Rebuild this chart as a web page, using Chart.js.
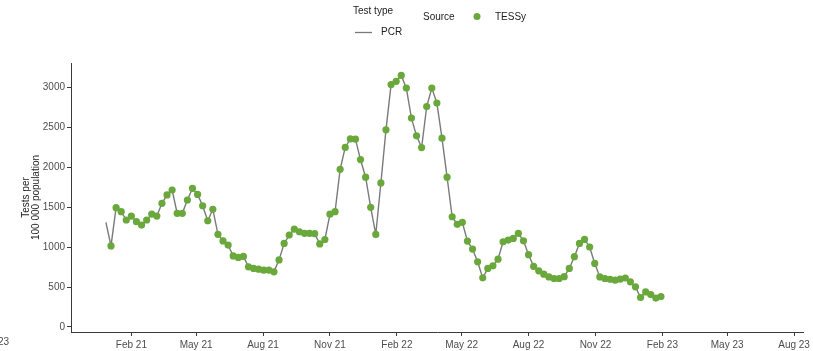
<!DOCTYPE html>
<html>
<head>
<meta charset="utf-8">
<script src="https://cdn.jsdelivr.net/npm/chart.js@4.4.1/dist/chart.umd.min.js"></script>
<style>
  body { margin: 0; background: #fff; }
  canvas { display: block; }
</style>
</head>
<body>
<canvas id="testsChart" width="813" height="351"></canvas>
<script>
// weekly PCR tests per 100 000, first week starts Monday 28 Dec 2020
var firstWeek = '2020-12-28';
var tessyFrom = 1; // TESSy reporting starts with the second week

var testsPer100k = [
  1310, 1015, 1494, 1443, 1339, 1389, 1318, 1276, 1339, 1414,
  1389, 1548, 1653, 1715, 1423, 1423, 1590, 1736, 1660, 1518,
  1330, 1473, 1160, 1077, 1025, 889, 871, 883, 753, 733,
  724, 711, 711, 690, 840, 1046, 1150, 1224, 1192, 1172,
  1172, 1168, 1040, 1095, 1412, 1443, 1975, 2248, 2355, 2351,
  2096, 1875, 1498, 1159, 1803, 2468, 3035, 3075, 3150, 2991,
  2615, 2393, 2246, 2760, 2991, 2803, 2364, 1875, 1380, 1285,
  1310, 1075, 975, 816, 615, 733, 765, 849, 1067, 1088,
  1109, 1172, 1079, 905, 758, 703, 661, 627, 607, 607,
  630, 733, 880, 1046, 1096, 1000, 795, 627, 607, 597,
  586, 599, 613, 565, 502, 369, 439, 405, 362, 380
];

var tickDates = ['2021-02-01', '2021-05-01', '2021-08-01', '2021-11-01', '2022-02-01',
  '2022-05-01', '2022-08-01', '2022-11-01', '2023-02-01', '2023-05-01', '2023-08-01'];
var tickLabels = ['Feb 21', 'May 21', 'Aug 21', 'Nov 21', 'Feb 22',
  'May 22', 'Aug 22', 'Nov 22', 'Feb 23', 'May 23', 'Aug 23'];
var yTicks = [0, 500, 1000, 1500, 2000, 2500, 3000];

var lineLabel = 'PCR';
var pointLabel = 'TESSy';
var lineLegendTitle = 'Test type';
var pointLegendTitle = 'Source';
var strayLabel = 'Aug 23';

function dayNum(s) { return Date.parse(s + 'T00:00:00Z') / 864e5; }

var start = dayNum(firstWeek);
var linePts = testsPer100k.map(function (v, i) { return { x: start + 7 * i, y: v }; });
var dotPts = testsPer100k.map(function (v, i) { return { x: start + 7 * i, y: i < tessyFrom ? null : v }; });
var tickDays = tickDates.map(dayNum);

var GREEN = '#6aa83c';
var GREY = '#7a7a7a';
var AXIS = '#3a3a3a';
var TICKTXT = '#4d4d4d';

// ggplot-style legend in the top margin
var legendPlugin = {
  id: 'topLegend',
  afterDraw: function (chart) {
    var c = chart.ctx;
    var ds = chart.data.datasets;
    c.save();
    c.font = '10px "Liberation Sans", Arial, sans-serif';
    c.fillStyle = '#222';
    c.textBaseline = 'middle';
    c.textAlign = 'left';
    c.fillText(lineLegendTitle, 353, 11);
    c.strokeStyle = ds[0].borderColor;
    c.lineWidth = 1.3;
    c.beginPath();
    c.moveTo(355, 32.5);
    c.lineTo(372, 32.5);
    c.stroke();
    c.fillText(ds[0].label, 381, 32);
    c.fillText(pointLegendTitle, 423, 17);
    c.fillStyle = ds[1].pointBackgroundColor;
    c.beginPath();
    c.arc(477, 16.5, 3.5, 0, Math.PI * 2);
    c.fill();
    c.fillStyle = '#222';
    c.fillText(ds[1].label, 495, 17);
    // clipped label at the left edge
    c.fillStyle = TICKTXT;
    c.textAlign = 'right';
    c.fillText(strayLabel, 9, 342);
    c.restore();
  }
};

new Chart(document.getElementById('testsChart'), {
  type: 'line',
  data: {
    datasets: [{
      label: lineLabel,
      data: linePts,
      borderColor: GREY,
      borderWidth: 1.4,
      pointRadius: 0,
      tension: 0,
      order: 1
    }, {
      label: pointLabel,
      data: dotPts,
      showLine: false,
      pointRadius: 3.6,
      pointBackgroundColor: GREEN,
      pointBorderColor: GREEN,
      pointBorderWidth: 0,
      order: 0
    }]
  },
  options: {
    responsive: false,
    animation: false,
    layout: { padding: { top: 63, left: 0, right: 7, bottom: 0 } },
    plugins: {
      legend: { display: false },
      tooltip: { enabled: false }
    },
    scales: {
      x: {
        type: 'linear',
        min: dayNum('2020-11-10'),
        max: dayNum('2023-08-14'),
        afterBuildTicks: function (s) { s.ticks = tickDays.map(function (d) { return { value: d }; }); },
        afterFit: function (s) { s.height = 19; },
        grid: { drawOnChartArea: false, tickLength: 4, tickColor: AXIS },
        border: { color: AXIS, width: 1 },
        ticks: {
          autoSkip: false,
          maxRotation: 0,
          padding: 3,
          color: TICKTXT,
          font: { family: '"Liberation Sans", Arial, sans-serif', size: 10 },
          callback: function (v) { var k = tickDays.indexOf(v); return k < 0 ? '' : tickLabels[k]; }
        }
      },
      y: {
        min: -63,
        max: 3305,
        afterBuildTicks: function (s) { s.ticks = yTicks.map(function (v) { return { value: v }; }); },
        afterFit: function (s) { s.width = 71; },
        grid: { drawOnChartArea: false, tickLength: 4, tickColor: AXIS },
        border: { color: AXIS, width: 1 },
        ticks: {
          padding: 2,
          color: TICKTXT,
          font: { family: '"Liberation Sans", Arial, sans-serif', size: 10 },
          callback: function (v) { return String(v); }
        },
        title: {
          display: true,
          text: ['Tests per', '100 000 population'],
          color: '#222',
          font: { family: '"Liberation Sans", Arial, sans-serif', size: 10, lineHeight: 1.0 },
          padding: { top: 21, bottom: 0 }
        }
      }
    }
  },
  plugins: [legendPlugin]
});
</script>
</body>
</html>
